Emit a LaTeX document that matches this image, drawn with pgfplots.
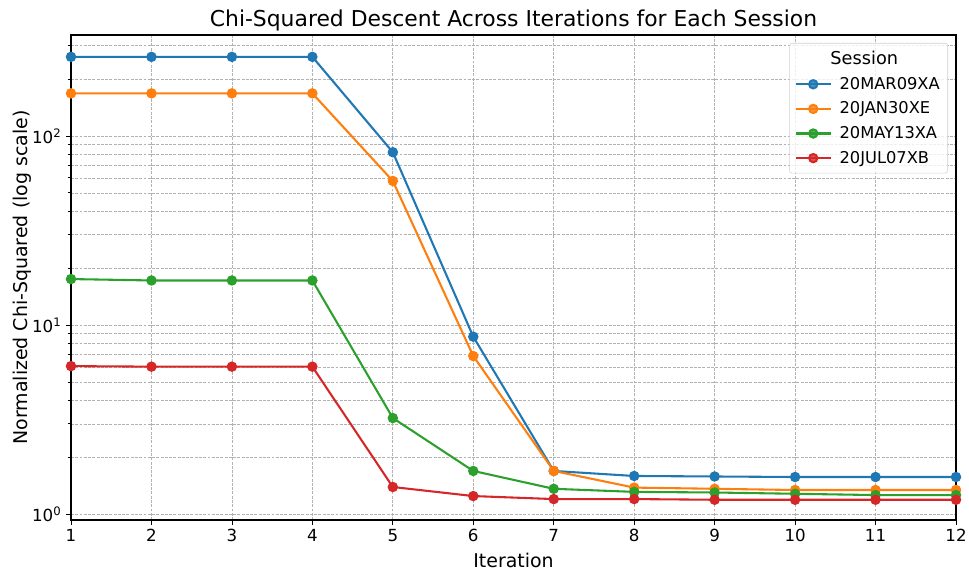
\documentclass[border=0pt]{standalone}
\usepackage{fontspec}
\setmainfont{DejaVu Sans}
\usepackage{pgfplots}
\pgfplotsset{compat=1.18}
\definecolor{tabblue}{HTML}{1F77B4}
\definecolor{taborange}{HTML}{FF7F0E}
\definecolor{tabgreen}{HTML}{2CA02C}
\definecolor{tabred}{HTML}{D62728}
\begin{document}
\begin{tikzpicture}
\useasboundingbox (-53.25pt,-38.25pt) rectangle (673.5pt,390pt);
\begin{axis}[
  at={(0,0)}, anchor=south west,
  scale only axis, width=663.75pt, height=363.75pt,
  ymode=log, xmin=1, xmax=12, ymin=0.93, ymax=342,
  xtick={1,2,...,12},
  ytick={1,10,100},
  yticklabels={10\textsuperscript{0},10\textsuperscript{1},10\textsuperscript{2}},
  minor ytick={2,3,4,5,6,7,8,9,20,30,40,50,60,70,80,90,200,300},
  grid=both,
  major grid style={gray!60, line width=0.5pt, dash pattern=on 2.2pt off 1pt},
  minor grid style={gray!60, line width=0.5pt, dash pattern=on 2.2pt off 1pt},
  tick align=outside, xtick pos=lower, ytick pos=left,
  major tick length=3.65pt, minor tick length=2.1pt,
  every tick/.style={black, line width=0.6pt},
  axis line style={line width=0.8pt},
  /pgf/number format/assume math mode=true,
  ticklabel style={font=\fontsize{12.5}{14}\selectfont},
  title={Chi-Squared Descent Across Iterations for Each Session},
  title style={at={(axis description cs:0.5,1.0125)}, anchor=center, font=\fontsize{16.4}{19}\selectfont},
  xlabel={Iteration},
  xlabel style={at={(axis description cs:0.5,-0.0825)}, anchor=center, font=\fontsize{14.2}{16}\selectfont},
  ylabel={Normalized Chi-Squared (log scale)},
  ylabel style={at={(axis description cs:-0.0554,0.5)}, anchor=center, rotate=0, font=\fontsize{14.2}{16}\selectfont},
  every axis plot/.append style={line width=1.56pt, mark=*, mark size=3.1pt, mark options={solid}},
  legend style={at={(1,1)}, anchor=north east, xshift=-6pt, yshift=-6pt,
    draw=gray!35, rounded corners=2pt, fill=white, fill opacity=0.8, text opacity=1,
    font=\fontsize{12.2}{14}\selectfont, row sep=3.9pt, inner xsep=4pt, inner ysep=4pt,
    /tikz/every odd column/.append style={column sep=4pt}},
  legend cell align=left,
  legend image code/.code={\draw[mark repeat=2,mark phase=2,#1] plot coordinates {(0pt,0pt) (13pt,0pt) (26pt,0pt)};},
]
\addlegendimage{empty legend}
\addlegendentry{\hspace*{-19pt}\makebox[75pt][c]{\fontsize{13.3}{15}\selectfont Session}}
\addplot[color=tabblue] coordinates {(1,262) (2,262) (3,262) (4,262) (5,82) (6,8.67) (7,1.69) (8,1.59) (9,1.58) (10,1.57) (11,1.57) (12,1.57)};
\addlegendentry{20MAR09XA}
\addplot[color=taborange] coordinates {(1,168) (2,168) (3,168) (4,168) (5,57.8) (6,6.85) (7,1.69) (8,1.38) (9,1.36) (10,1.34) (11,1.34) (12,1.34)};
\addlegendentry{20JAN30XE}
\addplot[color=tabgreen] coordinates {(1,17.5) (2,17.2) (3,17.2) (4,17.2) (5,3.22) (6,1.69) (7,1.36) (8,1.31) (9,1.30) (10,1.28) (11,1.26) (12,1.26)};
\addlegendentry{20MAY13XA}
\addplot[color=tabred] coordinates {(1,6.06) (2,6.02) (3,6.02) (4,6.02) (5,1.39) (6,1.245) (7,1.20) (8,1.20) (9,1.19) (10,1.19) (11,1.19) (12,1.19)};
\addlegendentry{20JUL07XB}
\end{axis}
\end{tikzpicture}
\end{document}
